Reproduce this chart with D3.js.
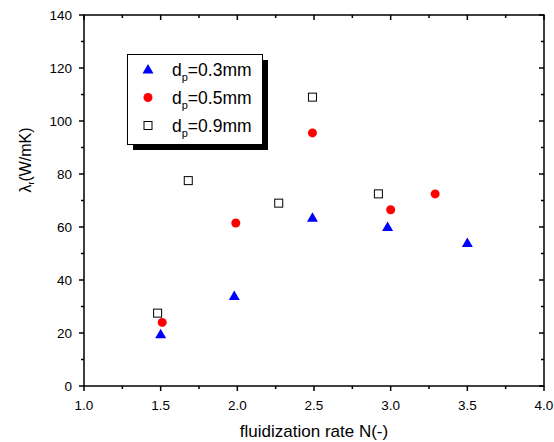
<!DOCTYPE html>
<html lang="en">
<head>
    <meta charset="UTF-8">
    <title>Radial thermal conductivity vs fluidization rate</title>
    <script src="https://cdnjs.cloudflare.com/ajax/libs/d3/7.8.5/d3.min.js"></script>
    <style>
        body { margin: 0; background: #fff; }
        svg text { font-family: Arial, "Liberation Sans", sans-serif; fill: #000; }
    </style>
</head>
<body>
    <div id="chart"></div>
    <script>
        // data
        const n03 = [1.50, 1.98, 2.49, 2.98, 3.50];
        const lam03 = [19.5, 34, 63.5, 60, 54];
        const n05 = [1.51, 1.99, 2.49, 3.00, 3.29];
        const lam05 = [24, 61.5, 95.5, 66.5, 72.5];
        const n09 = [1.48, 1.68, 2.27, 2.49, 2.92];
        const lam09 = [27.5, 77.5, 69, 109, 72.5];
        const xTicks = [1.0, 1.5, 2.0, 2.5, 3.0, 3.5, 4.0];
        const yTicks = [0, 20, 40, 60, 80, 100, 120, 140];

        const series = [
            { label: "0.3mm", xs: n03, ys: lam03, shape: "triangle" },
            { label: "0.5mm", xs: n05, ys: lam05, shape: "circle" },
            { label: "0.9mm", xs: n09, ys: lam09, shape: "square" }
        ];

        const W = 554, H = 442;
        const pL = 84, pR = 544, pT = 15, pB = 386;

        const svg = d3.select("#chart").append("svg")
            .attr("width", W).attr("height", H);

        const x = d3.scaleLinear().domain([1, 4]).range([pL, pR]);
        const y = d3.scaleLinear().domain([0, 140]).range([pB, pT]);

        const xMinor = d3.range(1.25, 4, 0.5);
        const yMinor = d3.range(10, 140, 20);

        const ax = svg.append("g").attr("stroke", "#000").attr("stroke-width", 1.5);

        // frame
        ax.append("rect").attr("x", pL).attr("y", pT)
            .attr("width", pR - pL).attr("height", pB - pT)
            .attr("fill", "none");

        // bottom ticks (outward), top ticks (inward)
        xTicks.forEach(v => {
            ax.append("line").attr("x1", x(v)).attr("x2", x(v)).attr("y1", pB).attr("y2", pB + 5);
            ax.append("line").attr("x1", x(v)).attr("x2", x(v)).attr("y1", pT).attr("y2", pT + 5);
        });
        xMinor.forEach(v => {
            ax.append("line").attr("x1", x(v)).attr("x2", x(v)).attr("y1", pB).attr("y2", pB + 3);
            ax.append("line").attr("x1", x(v)).attr("x2", x(v)).attr("y1", pT).attr("y2", pT + 3);
        });
        // left ticks (outward), right ticks (inward)
        yTicks.forEach(v => {
            ax.append("line").attr("y1", y(v)).attr("y2", y(v)).attr("x1", pL).attr("x2", pL - 5);
            ax.append("line").attr("y1", y(v)).attr("y2", y(v)).attr("x1", pR).attr("x2", pR - 5);
        });
        yMinor.forEach(v => {
            ax.append("line").attr("y1", y(v)).attr("y2", y(v)).attr("x1", pL).attr("x2", pL - 3);
            ax.append("line").attr("y1", y(v)).attr("y2", y(v)).attr("x1", pR).attr("x2", pR - 3);
        });

        svg.selectAll(".xl").data(xTicks).enter().append("text")
            .attr("x", d => x(d)).attr("y", pB + 24)
            .attr("text-anchor", "middle").attr("font-size", 13.5)
            .text(d => d.toFixed(1));

        svg.selectAll(".yl").data(yTicks).enter().append("text")
            .attr("x", pL - 12).attr("y", d => y(d) + 5)
            .attr("text-anchor", "end").attr("font-size", 13.5)
            .text(d => d);

        svg.append("text").attr("x", (pL + pR) / 2).attr("y", 437)
            .attr("text-anchor", "middle").attr("font-size", 17)
            .text("fluidization rate N(-)");

        const yt = svg.append("text")
            .attr("transform", "translate(31,160) rotate(-90)")
            .attr("text-anchor", "middle").attr("font-size", 16);
        yt.append("tspan").text("λ");
        yt.append("tspan").attr("font-size", 9).attr("dy", 3).text("r");
        yt.append("tspan").attr("dy", -3).text("(W/mK)");

        function marker(g, shape) {
            if (shape === "triangle") {
                g.append("path").attr("d", "M0,-5.5L5.5,4L-5.5,4Z").attr("fill", "#0000ff");
            } else if (shape === "circle") {
                g.append("circle").attr("r", 4.5).attr("fill", "#ff0000");
            } else {
                g.append("rect").attr("x", -4).attr("y", -4).attr("width", 8).attr("height", 8)
                    .attr("fill", "#fff").attr("stroke", "#000").attr("stroke-width", 1);
            }
        }

        series.forEach(s => {
            s.xs.forEach((xv, i) => {
                const g = svg.append("g").attr("transform", `translate(${x(xv)},${y(s.ys[i])})`);
                marker(g, s.shape);
            });
        });

        // legend with drop shadow
        const lg = svg.append("g");
        lg.append("rect").attr("x", 133).attr("y", 60).attr("width", 135).attr("height", 90).attr("fill", "#000");
        lg.append("rect").attr("x", 127.5).attr("y", 54.5).attr("width", 135).attr("height", 90)
            .attr("fill", "#fff").attr("stroke", "#000").attr("stroke-width", 1);
        series.forEach((s, i) => {
            const cy = 69.5 + i * 28;
            const g = lg.append("g").attr("transform", `translate(148,${cy})`);
            marker(g, s.shape);
            const t = lg.append("text").attr("x", 172).attr("y", cy + 6).attr("font-size", 17.5);
            t.append("tspan").text("d");
            t.append("tspan").attr("font-size", 11).attr("dy", 5).text("p");
            t.append("tspan").attr("dy", -5).text("=" + s.label);
        });
    </script>
</body>
</html>
